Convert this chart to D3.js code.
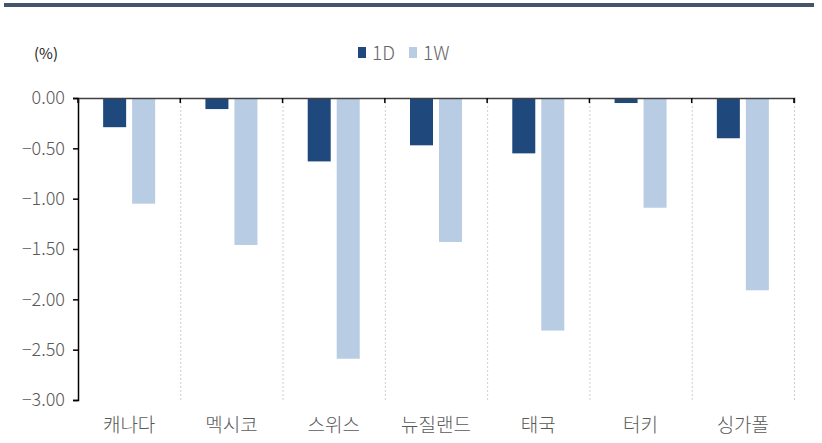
<!DOCTYPE html>
<html><head><meta charset="utf-8">
<script src="https://cdn.jsdelivr.net/npm/d3@7"></script>
<style>body{margin:0;background:#fff}svg{display:block}</style>
</head><body>
<script>
const categories = ["캐나다","멕시코","스위스","뉴질랜드","태국","터키","싱가폴"];
const seriesNames = ["1D","1W"];
const values1D = [-0.29,-0.11,-0.63,-0.47,-0.55,-0.05,-0.40];
const values1W = [-1.05,-1.46,-2.59,-1.43,-2.31,-1.09,-1.91];
const yTicks = [0,-0.5,-1,-1.5,-2,-2.5,-3];
const colors = ["#1f497d","#b8cce4"];

const W=822,H=443;
const svg=d3.select("body").append("svg").attr("width",W).attr("height",H);
const m={left:78,right:794,top:98,bottom:400};

svg.append("rect").attr("x",4).attr("y",3).attr("width",810).attr("height",4).attr("fill","#44546a");

const x=d3.scaleBand().domain(categories).range([m.left,m.right]);
const xs=d3.scaleBand().domain(seriesNames).range([0,x.bandwidth()]).paddingInner(0.207).paddingOuter(0.867);
const y=d3.scaleLinear().domain([0,-3]).range([m.top,m.bottom]);

// dotted vertical gridlines
const bounds=categories.map(c=>x(c)).concat([m.right]).slice(1);
svg.selectAll("line.grid").data(bounds).enter().append("line")
 .attr("x1",d=>d+0.5).attr("x2",d=>d+0.5).attr("y1",m.top).attr("y2",m.bottom)
 .attr("stroke","#d0d0d0").attr("stroke-dasharray","2,2").attr("stroke-width",1);

const data=categories.map((c,i)=>({c,vals:[values1D[i],values1W[i]]}));
const g=svg.append("g");
data.forEach(d=>{
  d.vals.forEach((v,j)=>{
    g.append("rect").attr("x",x(d.c)+xs(seriesNames[j])).attr("width",xs.bandwidth())
     .attr("y",y(0)).attr("height",y(v)-y(0)).attr("fill",colors[j]);
  });
});

// y axis
const ya=svg.append("g").attr("transform",`translate(${m.left},0)`)
 .call(d3.axisLeft(y).tickValues(yTicks).tickSize(5).tickFormat(d=>d3.format(".2f")(d).replace("-","−")));
ya.select(".domain").attr("stroke","#000").attr("stroke-width",1.5);
ya.selectAll(".tick line").attr("stroke","#000").attr("stroke-width",1.5);
ya.selectAll("text").attr("fill","#595959").attr("font-family","'Noto Sans CJK KR', 'Noto Sans', sans-serif").attr("font-size",18).attr("font-weight",300).attr("dx",-5);

// x axis at zero (top)
const xa=svg.append("g").attr("transform",`translate(0,${y(0)})`)
 .call(d3.axisBottom(x).tickSize(5).tickFormat(""));
xa.select(".domain").attr("stroke","#404040").attr("stroke-width",1.5);
xa.selectAll(".tick").remove();
xa.selectAll("line.bt").data([m.left].concat(bounds)).enter().append("line")
 .attr("x1",d=>d).attr("x2",d=>d).attr("y1",0).attr("y2",5).attr("stroke","#000").attr("stroke-width",1.5);

// category labels
svg.selectAll("text.cat").data(categories).enter().append("text")
 .attr("x",d=>x(d)+x.bandwidth()/2).attr("y",432).attr("text-anchor","middle")
 .attr("fill","#595959").attr("font-family","'Noto Sans CJK KR', sans-serif").attr("font-size",19)
 .attr("font-weight",300).text(d=>d);

// unit
svg.append("text").attr("x",46).attr("y",59).attr("text-anchor","middle")
 .attr("font-family","'Noto Sans CJK KR', sans-serif").attr("font-size",15).attr("fill","#222").text("(%)");

// legend
const lg=[{n:"1D",x:358},{n:"1W",x:409}];
lg.forEach((l,i)=>{
  svg.append("rect").attr("x",l.x).attr("y",47).attr("width",8).attr("height",11).attr("fill",colors[i]);
  svg.append("text").attr("x",l.x+14).attr("y",59.5).attr("font-family","'Noto Sans CJK KR', sans-serif")
   .attr("font-size",19).attr("font-weight",300).attr("fill","#666").text(l.n);
});
</script>
</body></html>
